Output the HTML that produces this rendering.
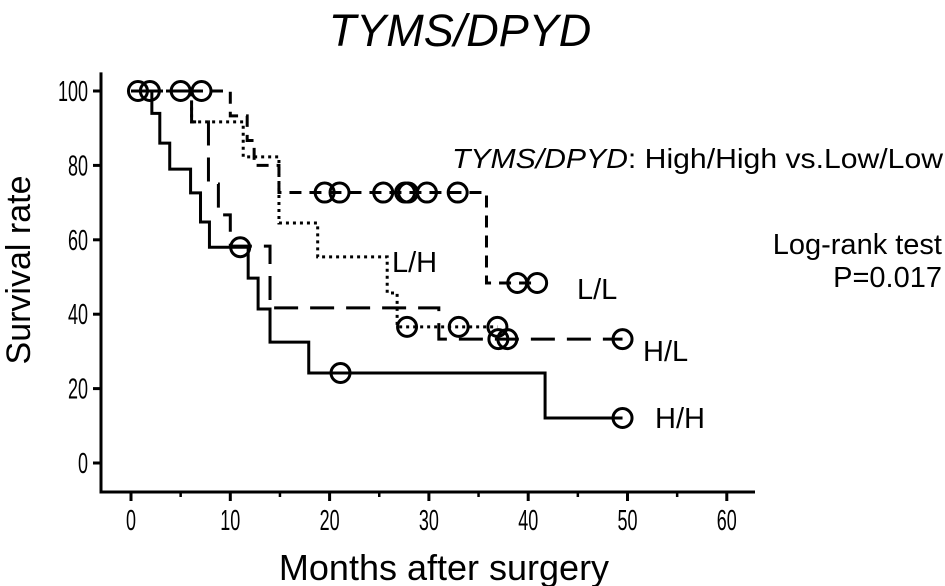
<!DOCTYPE html>
<html><head><meta charset="utf-8"><style>
body{margin:0;background:#fff;}
svg{display:block;font-family:"Liberation Sans",sans-serif;}
</style></head><body>
<svg id="chart" width="945" height="586" viewBox="0 0 945 586">
<text x="460" y="46" font-size="45" font-style="italic" text-anchor="middle">TYMS/DPYD</text>
<text x="943" y="168" font-size="28" text-anchor="end" textLength="491" lengthAdjust="spacingAndGlyphs"><tspan font-style="italic">TYMS/DPYD</tspan>: High/High vs.Low/Low</text>
<text x="942" y="254" font-size="29" text-anchor="end">Log-rank test</text>
<text x="942" y="287" font-size="29" text-anchor="end">P=0.017</text>
<text transform="translate(30,270) rotate(-90)" font-size="34" text-anchor="middle">Survival rate</text>
<text x="444" y="580" font-size="36" text-anchor="middle">Months after surgery</text>
<g id="axes"></g>
<g id="series"></g>
<text x="392" y="272" font-size="29">L/H</text>
<text x="577" y="299" font-size="29">L/L</text>
<text x="643" y="361" font-size="29">H/L</text>
<text x="655" y="428" font-size="29">H/H</text>
</svg>
<script>
const xTicks=[0,10,20,30,40,50,60];
const xMinor=[5,15,25,35,45,55];
const yTicks=[0,20,40,60,80,100];
const hhTimes=[0,2.1,2.9,3.9,6.0,7.0,7.9,11.8,12.8,14,17.9,41.7,49.5];
const hhVals=[100,94,86,79,72.6,64.8,58,49.7,41.4,32.5,24.2,12.1,12.1];
const hhCens=[11,21.1,49.5];
const hlTimes=[0,6.1,7.8,8.8,10,14,31,49.5];
const hlVals=[100,91.7,75,66.7,58.3,41.7,33.3,33.3];
const hlCens=[37,37.9,49.5];
const lhTimes=[0,6.1,11.3,14.9,18.8,25.8,26.8,36.9];
const lhVals=[100,91.7,82.3,64.5,55.4,45.7,36.6,36.6];
const lhCens=[27.8,33,36.9];
const llTimes=[0,10,11.7,12.4,14.9,35.8,40.9];
const llVals=[100,93.3,86.7,80,72.7,48.4,48.4];
const llCens=[0.7,1.9,5,7.1,19.5,21,25.4,27.6,27.9,29.8,32.9,38.9,40.9];
const X=m=>131+9.93*m, Y=v=>463-3.72*v;
const NS="http://www.w3.org/2000/svg";
function mk(tag,attrs,parent){const e=document.createElementNS(NS,tag);for(const k in attrs)e.setAttribute(k,attrs[k]);parent.appendChild(e);return e;}
const ax=document.getElementById('axes');
let a=mk('path',{d:`M101,${Y(105)} V492 H755`,fill:'none',stroke:'#000','stroke-width':3},ax);


yTicks.forEach(v=>{
 let t=mk('line',{x1:93,x2:101,y1:Y(v),y2:Y(v),stroke:'#000','stroke-width':3},ax);
 
 
 let l=mk('text',{x:0,y:0,'font-size':29,'text-anchor':'end',transform:`translate(88,${Y(v)+10}) scale(0.62,1)`},ax);
 l.textContent=v;
 
 
});
xTicks.forEach(m=>{
 let t=mk('line',{x1:X(m),x2:X(m),y1:492,y2:501,stroke:'#000','stroke-width':3},ax);
 
 
 let l=mk('text',{x:0,y:0,'font-size':29,'text-anchor':'middle',transform:`translate(${X(m)},530) scale(0.62,1)`},ax);
 l.textContent=m;
 
 
});
xMinor.forEach(m=>{
 let t=mk('line',{x1:X(m),x2:X(m),y1:492,y2:497,stroke:'#000','stroke-width':2.5},ax);
 
 
});
const sg=document.getElementById('series');
function stepVal(ts,vs,t){let v=vs[0];for(let i=0;i<ts.length;i++){if(ts[i]<=t)v=vs[i];}return v;}
function series(name,ts,vs,cens,dash){
 let d=`M${X(ts[0])},${Y(vs[0])}`;
 for(let i=1;i<ts.length;i++){d+=` H${X(ts[i])} V${Y(vs[i])}`;}
 let p=mk('path',{d:d,fill:'none',stroke:'#000','stroke-width':3,'stroke-dasharray':dash},sg);
 
 
 cens.forEach(t=>{
  let c=mk('circle',{cx:X(t),cy:Y(stepVal(ts,vs,t)),r:9.5,fill:'none',stroke:'#000','stroke-width':3},sg);
  
  
 });
}
series('hh',hhTimes,hhVals,hhCens,'none');
series('hl',hlTimes,hlVals,hlCens,'24 12');
series('lh',lhTimes,lhVals,lhCens,'3 4');
series('ll',llTimes,llVals,llCens,'12 8');
</script>
</body></html>
